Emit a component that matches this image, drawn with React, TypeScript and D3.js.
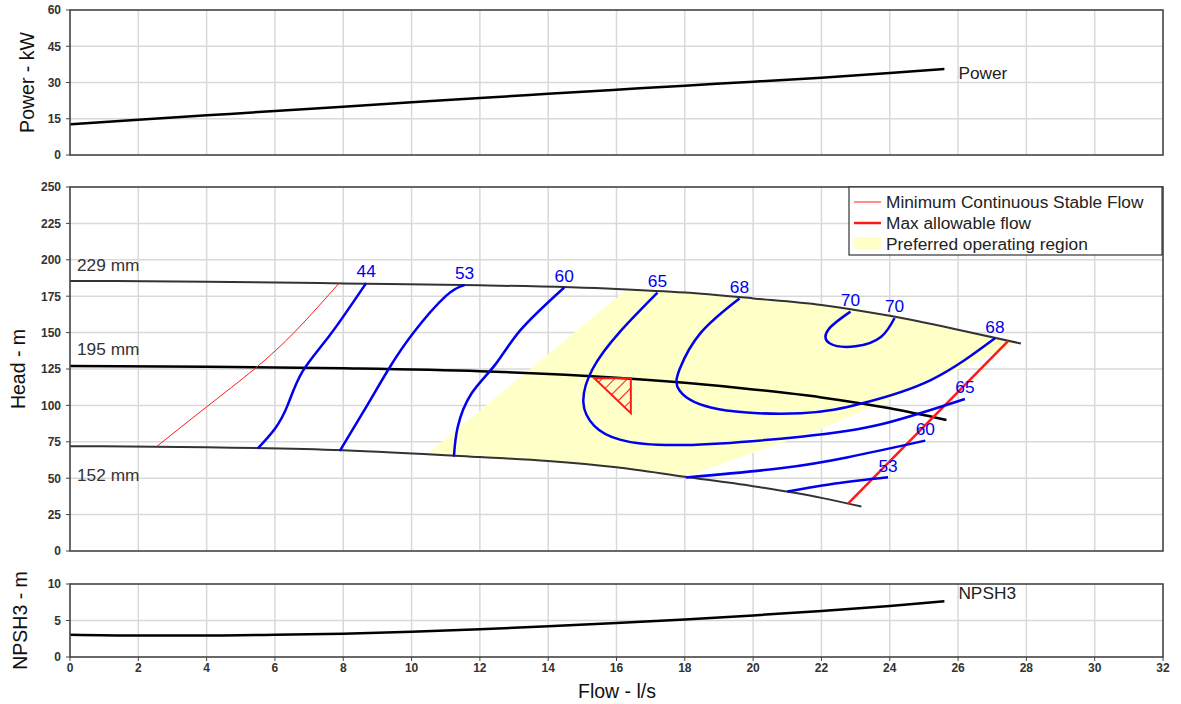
import React, { useEffect } from 'react';
import * as d3 from 'd3';

// tick labels
const flowTicks = [0, 2, 4, 6, 8, 10, 12, 14, 16, 18, 20, 22, 24, 26, 28, 30, 32];
const powerTicks = [0, 15, 30, 45, 60];
const headTicks = [0, 25, 50, 75, 100, 125, 150, 175, 200, 225, 250];
const npshTicks = [0, 5, 10];

// [flow l/s, value]
const powerCurve = [[0, 12.7], [2, 14.6], [4, 16.4], [6, 18.2], [8, 20.0], [10, 21.8], [12, 23.6], [14, 25.3], [16, 27.0], [18, 28.7], [20, 30.3], [22, 32.0], [24, 33.9], [25.6, 35.6]];
const npshCurve = [[0, 3.05], [2, 2.95], [4, 2.95], [6, 3.05], [8, 3.2], [10, 3.45], [12, 3.8], [14, 4.2], [16, 4.65], [18, 5.15], [20, 5.7], [22, 6.3], [24, 7.0], [25.6, 7.65]];

const head229 = [[0, 185.5], [4, 185.0], [8, 183.8], [12, 182.5], [16, 180.0], [18, 177.5], [20, 173.5], [22, 169.0], [24, 161.5], [26, 152.0], [27.84, 142.5]];
const head195 = [[0, 127.0], [4, 126.5], [8, 125.5], [12, 123.5], [16, 119.0], [18, 115.5], [20, 111.0], [22, 105.5], [24, 98.0], [25.66, 90.0]];
const head152 = [[0, 72.0], [4, 71.3], [8, 69.2], [12, 64.5], [14, 61.8], [16, 57.5], [18, 51.0], [20, 44.5], [22, 36.5], [23.17, 30.5]];

const minStableFlow = [[2.55, 72], [4.0, 99], [5.4, 125], [6.6, 151], [7.9, 184.5]];
const maxAllowableFlow = [[22.78, 32.6], [27.47, 144.4]];

const preferredRegion = [[10.46, 66.8], [16.3, 179.6], [18, 177.5], [20, 173.5], [22, 169], [24, 161.5], [26, 152], [27.7, 143], [26, 125], [24, 104], [21.9, 83], [20.8, 74], [18.03, 51], [16, 57.5], [14, 61.8], [12, 64.5], [10.46, 66.8]];
const bepTriangle = [[15.35, 118.6], [16.42, 118.6], [16.42, 94.6]];

// efficiency contours (%)
const eff44 = [[5.5, 70.5], [6.0, 84], [6.37, 100], [6.8, 123], [7.6, 148], [8.67, 184]];
const eff53 = [[7.9, 68.7], [8.7, 100], [9.33, 125], [10.06, 150], [11.0, 175], [11.55, 182.7]];
const eff60 = [[11.24, 64.8], [11.35, 85], [11.75, 108], [12.45, 128], [13.2, 152], [14.47, 181]];
const eff65 = [[17.2, 177.4], [16.08, 150], [15.3, 125], [15.03, 102], [15.35, 86], [16.1, 76.5], [17.98, 72.8], [21.4, 78.5], [23.75, 87], [26.2, 104.4]];
const eff68 = [[19.6, 173.5], [18.47, 150], [17.85, 125], [17.85, 110], [18.96, 97.5], [21.4, 94.6], [23.2, 101.5], [25.2, 117.4], [27.08, 146.1]];
const eff70 = [[22.85, 164.4], [22.2, 152], [22.25, 142.5], [23.0, 140.6], [23.75, 147.2], [24.14, 160]];
const eff60low = [[18.03, 50.5], [20.8, 56.8], [22.78, 64.4], [25.04, 75.8]];
const eff53low = [[21.0, 40.8], [22.4, 46.3], [23.95, 50.6]];

const contours = [
  { value: 44, points: eff44, labels: ['end'] },
  { value: 53, points: eff53, labels: ['end'] },
  { value: 60, points: eff60, labels: ['end'] },
  { value: 65, points: eff65, labels: ['start', 'end'] },
  { value: 68, points: eff68, labels: ['start', 'end'] },
  { value: 70, points: eff70, labels: ['start', 'end'] },
  { value: 60, points: eff60low, labels: ['end'] },
  { value: 53, points: eff53low, labels: ['end'] },
];

const impellers = [
  { name: '229 mm', points: head229, labelHead: 192.5, color: '#333', width: 2 },
  { name: '195 mm', points: head195, labelHead: 134.5, color: '#000', width: 2.5 },
  { name: '152 mm', points: head152, labelHead: 48, color: '#333', width: 2 },
];

const legendItems = ['Minimum Continuous Stable Flow', 'Max allowable flow', 'Preferred operating region'];

const FONT = '"Liberation Sans", Arial, sans-serif';
const GRID = '#d9d9d9';
const FRAME = '#444';
const BLUE = '#0000ee';
const RED = '#ff1a1a';
const LABEL = 17.3;

export default function App() {
  useEffect(() => {
    document.body.style.margin = '0';
  }, []);

  const x = d3.scaleLinear().domain([0, 32]).range([70, 1163]);
  const yPower = d3.scaleLinear().domain([0, 60]).range([155, 10]);
  const yHead = d3.scaleLinear().domain([0, 250]).range([551, 187]);
  const yNpsh = d3.scaleLinear().domain([0, 10]).range([657, 584]);

  const smooth = (y: any) => d3.line<number[]>().x(d => x(d[0])).y(d => y(d[1])).curve(d3.curveMonotoneX);
  const free = d3.line<number[]>().x(d => x(d[0])).y(d => yHead(d[1])).curve(d3.curveNatural);
  const straight = d3.line<number[]>().x(d => x(d[0])).y(d => yHead(d[1]));

  const panel = (y: any, ticks: number[], key: string) => {
    return (
      <g key={key}>
        {flowTicks.slice(1, -1).map(t => (
          <line key={'v' + t} x1={x(t)} x2={x(t)} y1={y.range()[0]} y2={y.range()[1]} stroke={GRID} strokeWidth={1.5} />
        ))}
        {ticks.slice(1, -1).map(t => (
          <line key={'h' + t} x1={x(0)} x2={x(32)} y1={y(t)} y2={y(t)} stroke={GRID} strokeWidth={1.5} />
        ))}
        {ticks.map(t => (
          <g key={'t' + t}>
            <line x1={x(0) - 4} x2={x(0)} y1={y(t)} y2={y(t)} stroke={FRAME} strokeWidth={1} />
            <text x={61} y={y(t)} dy="0.36em" textAnchor="end" fontSize={12} fontWeight="bold" fill="#333">{t}</text>
          </g>
        ))}
      </g>
    );
  };

  const frame = (y: any) => {
    const [y0, y1] = y.range();
    return <rect x={x(0)} y={y1} width={x(32) - x(0)} height={y0 - y1} fill="none" stroke={FRAME} strokeWidth={1.6} />;
  };

  return (
    <svg width={1181} height={704} style={{ display: 'block', fontFamily: FONT }}>
      <defs>
        <pattern id="hatch" width={9} height={9} patternUnits="userSpaceOnUse" patternTransform="rotate(45)">
          <line x1={0} y1={0} x2={0} y2={9} stroke={RED} strokeWidth={2} />
        </pattern>
      </defs>
      <rect width={1181} height={704} fill="#fff" />

      {/* power panel */}
      {panel(yPower, powerTicks, 'p')}
      <path d={smooth(yPower)(powerCurve) || ''} fill="none" stroke="#000" strokeWidth={2.5} />
      <text x={x(25.6) + 14} y={yPower(35.6)} dy="0.6em" fontSize={LABEL} fill="#222">Power</text>
      {frame(yPower)}

      {/* head panel */}
      {panel(yHead, headTicks, 'h')}
      <path d={straight(preferredRegion) || ''} fill="#ffffc8" stroke="none" />
      {impellers.map(imp => (
        <g key={imp.name}>
          <path d={smooth(yHead)(imp.points) || ''} fill="none" stroke={imp.color} strokeWidth={imp.width} />
          <text x={77} y={yHead(imp.labelHead)} fontSize={LABEL} fill="#333">{imp.name}</text>
        </g>
      ))}
      <path d={free(minStableFlow) || ''} fill="none" stroke={RED} strokeWidth={1} />
      <path d={straight(maxAllowableFlow) || ''} fill="none" stroke={RED} strokeWidth={2.5} />
      {contours.map((c, i) => (
        <g key={'c' + i}>
          <path d={free(c.points) || ''} fill="none" stroke={BLUE} strokeWidth={2.5} />
          {c.labels.map(end => {
            const p = end === 'start' ? c.points[0] : c.points[c.points.length - 1];
            return (
              <text key={end} x={x(p[0])} y={yHead(p[1]) - 12} dy="0.36em" textAnchor="middle" fontSize={LABEL} fill={BLUE}>{c.value}</text>
            );
          })}
        </g>
      ))}
      <path d={(straight(bepTriangle) || '') + 'Z'} fill="url(#hatch)" stroke={RED} strokeWidth={2} />
      {frame(yHead)}

      {/* legend */}
      <g>
        <rect x={849} y={187} width={313} height={68} fill="#fff" stroke="#333" strokeWidth={1.2} />
        <line x1={854} x2={881} y1={202} y2={202} stroke={RED} strokeWidth={1} />
        <line x1={854} x2={881} y1={223} y2={223} stroke={RED} strokeWidth={2.5} />
        <rect x={854} y={237} width={27} height={12} fill="#ffffc8" />
        {legendItems.map((t, i) => (
          <text key={t} x={886} y={202 + i * 21} dy="0.36em" fontSize={LABEL} fill="#222">{t}</text>
        ))}
      </g>

      {/* NPSH panel */}
      {panel(yNpsh, npshTicks, 'n')}
      <path d={smooth(yNpsh)(npshCurve) || ''} fill="none" stroke="#000" strokeWidth={2.5} />
      <text x={x(25.6) + 14} y={yNpsh(7.7)} dy="-0.1em" fontSize={LABEL} fill="#222">NPSH3</text>
      {frame(yNpsh)}

      {/* x axis */}
      {flowTicks.map(t => (
        <g key={'x' + t}>
          <line x1={x(t)} x2={x(t)} y1={657} y2={661} stroke={FRAME} strokeWidth={1} />
          <text x={x(t)} y={672} textAnchor="middle" fontSize={12} fontWeight="bold" fill="#333">{t}</text>
        </g>
      ))}
      <text x={617} y={698} textAnchor="middle" fontSize={19.5} fill="#111">Flow - l/s</text>

      {/* y titles */}
      <text transform={`translate(34,${(yPower(0) + yPower(60)) / 2}) rotate(-90)`} textAnchor="middle" fontSize={19.5} fill="#111">Power - kW</text>
      <text transform={`translate(25,${(yHead(0) + yHead(250)) / 2}) rotate(-90)`} textAnchor="middle" fontSize={19.5} fill="#111">Head - m</text>
      <text transform={`translate(27,${(yNpsh(0) + yNpsh(10)) / 2}) rotate(-90)`} textAnchor="middle" fontSize={19.5} fill="#111">NPSH3 - m</text>
    </svg>
  );
}
